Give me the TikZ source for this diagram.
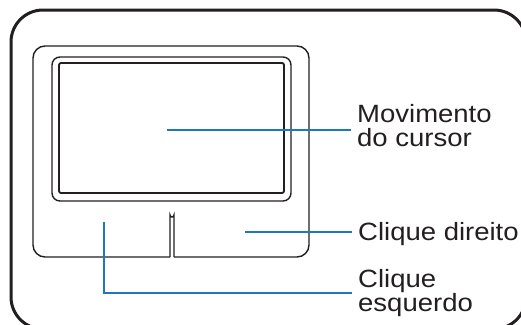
\documentclass[tikz,border=0pt]{standalone}
\usepackage{fontspec}
\setmainfont{Liberation Sans}[FakeStretch=1.1]
\definecolor{ink}{RGB}{35,31,32}
\definecolor{callout}{RGB}{30,120,190}
\begin{document}
\begin{tikzpicture}[x=1pt,y=-1pt,
  frame/.style={draw=ink,line width=3pt,rounded corners=32pt},
  padline/.style={draw=ink,line width=1.4pt},
  leader/.style={draw=callout,line width=1.3pt},
  lbl/.style={anchor=north west,inner xsep=6pt,inner ysep=0pt,align=left,
    font=\fontsize{25}{24.5}\selectfont,text=ink}]
\useasboundingbox (0,0) rectangle (521,324);
\clip (0,0) rectangle (521,324);
\fill[white] (0,0) rectangle (521,324);
% outer frame
\draw[frame] (11,10) rectangle (526,329);
% touchpad body
\draw[padline,rounded corners=12pt] (170,257) -- (33,257) -- (33,46) -- (309,46) -- (309,257) -- (174,257);
\draw[padline] (170,257) -- (170,215) arc[start angle=180,end angle=0,radius=2] -- (174,257);
\draw[padline,rounded corners=8pt] (52,57) rectangle (291,201);
\draw[draw=ink,line width=1.8pt,rounded corners=2pt] (59,63) rectangle (284,193);
% labels
\node[lbl] (mv) at (351,104) {Movimento\\do cursor};
\node[lbl] (cd) at (352,222) {Clique direito};
\node[lbl] (ce) at (352,269) {Clique\\esquerdo};
% leaders
\coordinate (mvp) at (167,130);
\coordinate (cdp) at (245,232);
\coordinate (cep) at (104,222);
\coordinate (cec) at (104,293);
\draw[leader] (mvp) -- (mvp -| mv.west);
\draw[leader] (cdp) -- (cdp -| cd.west);
\draw[leader] (cep) -- (cec) -- (cec -| ce.west);
\end{tikzpicture}
\end{document}
